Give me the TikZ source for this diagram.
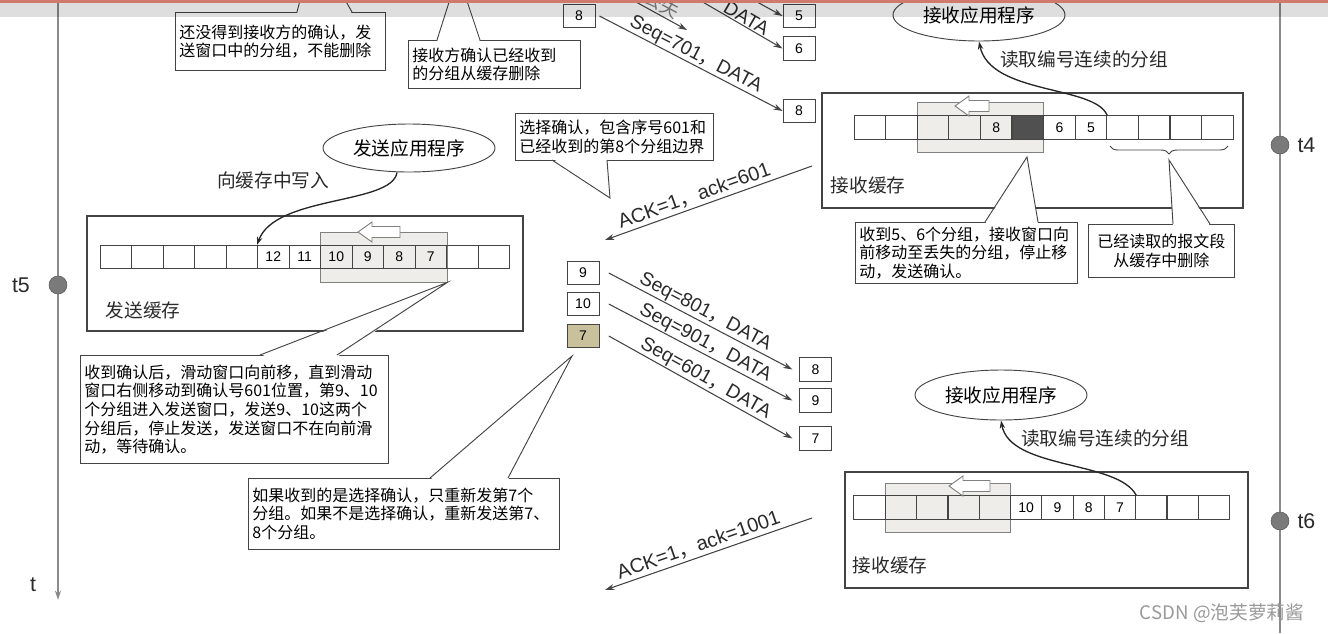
\documentclass[tikz,border=0pt]{standalone}
\usepackage{fontspec}
\setmainfont{Liberation Sans}
\newfontfamily\cjk{Noto Sans CJK SC}
\usepackage{xcolor}
\usepackage{tikz}
\usetikzlibrary{shapes.geometric, arrows.meta, positioning, decorations.pathreplacing}

\definecolor{linegray}{HTML}{444444}
\definecolor{axisgray}{HTML}{8A8A8A}
\definecolor{dotgray}{HTML}{7A7A7A}
\definecolor{winfill}{HTML}{EFEDE9}
\definecolor{darkcell}{HTML}{505050}
\definecolor{pktfill}{HTML}{C9C19C}
\definecolor{bandred}{HTML}{D07A6E}
\definecolor{txtgray}{HTML}{2A2A2A}

\newcommand{\fwc}{{\cjk ，}}
% hollow arrow on top of a window: tip x, tip y, shaft length
\newcommand{\winarrow}[3]{%
  \draw[winarr] (#1,#2) -- ++(14,-10) -- ++(0,4.5) -- ++(#3,0) -- ++(0,11) -- ++(-#3,0) -- ++(0,4.5) -- cycle;}

\tikzset{
  cell/.style={draw=linegray, line width=0.7pt, minimum width=23.6pt, minimum height=17.5pt, inner sep=0pt, font=\fontsize{10.5}{12}\selectfont},
  pkt/.style={draw=linegray, line width=0.7pt, minimum width=24pt, minimum height=17.5pt, inner sep=0pt, font=\fontsize{10.5}{12}\selectfont},
  bufbox/.style={draw=linegray, line width=0.8pt},
  win/.style={draw=gray, fill=winfill, line width=0.6pt, inner sep=0pt},
  winarr/.style={draw=gray, fill=white, line width=0.7pt},
  note/.style={draw=linegray, fill=white, line width=0.7pt, anchor=north west, align=left, inner xsep=3pt, inner ysep=2pt, font=\cjk\fontsize{12}{14}\selectfont},
  tailln/.style={draw=linegray, line width=0.7pt},
  app/.style={ellipse, draw=linegray, line width=0.7pt, minimum width=129pt, minimum height=36pt, inner sep=0pt, font=\cjk\fontsize{14}{16}\selectfont},
  cjklbl/.style={font=\cjk\fontsize{14}{16}\selectfont, text=txtgray},
  msg/.style={draw=linegray, line width=0.8pt, -{Stealth[length=7pt, width=4.5pt]}},
  seqlbl/.style={sloped, above, inner sep=0.5pt, font=\fontsize{14.5}{16}\selectfont, text=txtgray},
  readarr/.style={draw=black!85, line width=1pt, -{Stealth[length=6pt, width=4pt]}},
  axisln/.style={draw=axisgray, line width=1.6pt},
  tdot/.style={circle, fill=dotgray, draw=gray!70!black, minimum size=13.5pt, inner sep=0pt},
  tlbl/.style={font=\fontsize{16}{18}\selectfont, text=txtgray, inner sep=0pt}
}

\begin{document}
\begin{tikzpicture}[x=0.75pt, y=-0.75pt]
    \useasboundingbox (0,0) rectangle (1328,633);
    \clip (0,0) rectangle (1328,633);

    % Time axes
    \coordinate (ltop) at (58,0);
    \coordinate (lbot) at (58,600);
    \coordinate (rtop) at (1280,0);
    \coordinate (rbot) at (1280,633);
    \draw[axisln, -{Stealth[length=7pt, width=4.5pt]}] (ltop) -- (lbot);
    \draw[axisln] (rtop) -- (rbot);
    \node[tdot] (t5) at (58,285) {};
    \node[tdot] (t4) at (1280,145) {};
    \node[tdot] (t6) at (1280,521) {};
    \node[tlbl, left=14pt of t5] (t5lbl) {t5};
    \node[tlbl, right=6pt of t4] (t4lbl) {t4};
    \node[tlbl, right=6pt of t6] (t6lbl) {t6};
    \node[tlbl] (tlbl) at (33,585) {t};

    % Sender: application and buffer
    \def\scw{31.5}
    \node[app] (sapp) at (409,148) {发送应用程序};
    \node[cjklbl] (wrlbl) at (273,180) {向缓存中写入};
    \draw[bufbox] (87,216) rectangle (523,331);
    \node[win, minimum width=95.25pt, minimum height=37.5pt] (swin) at (383.5,257) {};
    \foreach \lb [count=\i] in {{},{},{},{},{},12,11,10,9,8,7,{},{}}
        \node[cell] (sc\i) at ({100+\scw*(\i-0.5)},257) {\lb};
    \winarrow{358}{232}{28}
    \node[cjklbl] (sbuflbl) at (143,310) {发送缓存};
    \draw[readarr] ([xshift=-9pt]sapp.south) .. controls (392,205) and (275,195) .. (sc6.north west);

    % Receiver at t4: application and buffer
    \def\rcw{31.6}
    \node[app, minimum height=39pt] (rapp1) at (979,15) {接收应用程序};
    \node[cjklbl] (rd1) at (1084,59) {读取编号连续的分组};
    \draw[bufbox] (822,93) rectangle (1243,208);
    \node[win, minimum width=94.5pt, minimum height=37.5pt] (rwin1) at (980,127) {};
    \foreach \lb [count=\i] in {{},{},{},{},8,{},6,5,{},{},{},{}}
        \node[cell] (rc\i) at ({854+\rcw*(\i-0.5)},127.5) {\lb};
    \node[cell, fill=darkcell] at (rc6) {};
    \winarrow{955}{106}{20}
    \node[cjklbl] (rbuflbl1) at (868,185) {接收缓存};
    \draw[readarr] (rc8.north east) .. controls (1095,85) and (990,95) .. (rapp1.south);
    \draw[linegray, line width=0.7pt, decorate, decoration={brace, mirror, amplitude=6pt}] (1110,146) -- (1228,146);
    \coordinate (brtip) at (1169,160);

    % Receiver at t6: application and buffer
    \def\bcw{31.3}
    \node[app, minimum height=37.5pt] (rapp2) at (1001,395) {接收应用程序};
    \node[cjklbl] (rd2) at (1105,438) {读取编号连续的分组};
    \draw[bufbox] (845,472) rectangle (1248,588);
    \node[win, minimum width=93.75pt, minimum height=36.75pt] (rwin2) at (947.5,507.5) {};
    \foreach \lb [count=\i] in {{},{},{},{},{},10,9,8,7,{},{},{}}
        \node[cell] (rb\i) at ({854+\bcw*(\i-0.5)},507.5) {\lb};
    \winarrow{949}{486}{27}
    \node[cjklbl] (rbuflbl2) at (890,565) {接收缓存};
    \draw[readarr] (rb9.north east) .. controls (1118,460) and (1010,470) .. (rapp2.south);

    % Segments sent before t4
    \node[pkt] (s8) at (579,16) {8};
    \node[pkt] (r5) at (799,16) {5};
    \node[pkt] (r6) at (799,48.5) {6};
    \node[pkt] (r8) at (799,111) {8};
    \coordinate (m5s) at (690,-35);
    \coordinate (m6s) at (665,-20);
    \coordinate (m7s) at (605,-15);
    \coordinate (m7e) at (687,30);
    \draw[msg] (m5s) -- (r5.west);
    \draw[msg] (m6s) -- node[seqlbl, pos=0.66] {DATA} (r6.west);
    \draw[msg] (m7s) -- (m7e);
    \node[cjklbl, text=gray, rotate=-28] (lost) at (662,4) {丢失};
    \draw[msg] ([xshift=3pt]s8.east) -- node[seqlbl] {Seq=701\fwc DATA} (r8.west);

    % Selective ACK from receiver
    \coordinate (a1s) at (812,166);
    \coordinate (a1e) at (605,240);
    \draw[msg] (a1s) -- node[seqlbl, pos=0.55, inner sep=2pt, font=\fontsize{15}{17}\selectfont] {ACK=1\fwc ack=601} (a1e);

    % Segments sent after t5
    \node[pkt] (s9) at (583,273) {9};
    \node[pkt] (s10) at (583,304) {10};
    \node[pkt, fill=pktfill] (s7) at (583,336) {7};
    \node[pkt] (r8b) at (815.5,369.5) {8};
    \node[pkt] (r9b) at (815.5,400.5) {9};
    \node[pkt] (r7b) at (815.5,438.5) {7};
    \draw[msg] ([xshift=7pt]s9.east) -- node[seqlbl] {Seq=801\fwc DATA} ([xshift=-5pt]r8b.west);
    \draw[msg] ([xshift=7pt]s10.east) -- node[seqlbl] {Seq=901\fwc DATA} ([xshift=-5pt]r9b.west);
    \draw[msg] ([xshift=7pt]s7.east) -- node[seqlbl] {Seq=601\fwc DATA} ([xshift=-5pt]r7b.west);

    % Final ACK
    \coordinate (a2s) at (812,518);
    \coordinate (a2e) at (605,590);
    \draw[msg] (a2s) -- node[seqlbl, pos=0.53, inner sep=2pt, font=\fontsize{15}{17}\selectfont] {ACK=1\fwc ack=1001} (a2e);

    % Notes
    \node[note, text width=151.5pt, minimum height=43.5pt] (nA) at (175,12) {还没得到接收方的确认，发\\送窗口中的分组，不能删除};
    \coordinate (tipA) at (314,-54);
    \fill[white] (tipA) -- (297,14) -- (352,14) -- cycle;
    \draw[tailln] (297,12) -- (tipA) -- (352,12);

    \node[note, text width=123pt, minimum height=36pt] (nB) at (408,40) {接收方确认已经收到\\的分组从缓存删除};
    \coordinate (tipB) at (458,-26);
    \fill[white] (tipB) -- (437,42) -- (480,42) -- cycle;
    \draw[tailln] (437,40) -- (tipB) -- (480,40);

    \node[note, text width=142.5pt, minimum height=35.25pt] (nC) at (515,113) {选择确认，包含序号601和\\已经收到的第8个分组边界};
    \coordinate (tipC) at (610,198);
    \fill[white] (tipC) -- (552,158) -- (607,158) -- cycle;
    \draw[tailln] (552,160) -- (tipC) -- (607,160);

    \node[note, text width=225pt, minimum height=81pt] (nD) at (80,355) {收到确认后，滑动窗口向前移，直到滑动\\窗口右侧移动到确认号601位置，第9、10\\个分组进入发送窗口，发送9、10这两个\\分组后，停止发送，发送窗口不在向前滑\\动，等待确认。};
    \fill[white] (swin.south east) -- (260,357) -- (337,357) -- cycle;
    \draw[tailln] (260,355) -- (swin.south east) -- (337,355);

    \node[note, text width=227pt, minimum height=53pt] (nE) at (248,478) {如果收到的是选择确认，只重新发第7个\\分组。如果不是选择确认，重新发送第7、\\8个分组。};
    \coordinate (tipE) at (572,356);
    \fill[white] (tipE) -- (430,480) -- (508,480) -- cycle;
    \draw[tailln] (430,478) -- (tipE) -- (508,478);

    \node[note, text width=160.5pt, minimum height=45.75pt] (nF) at (855,222) {收到5、6个分组，接收窗口向\\前移动至丢失的分组，停止移\\动，发送确认。};
    \coordinate (tipF) at (1027,157);
    \fill[white] (tipF) -- (985,224) -- (1038,224) -- cycle;
    \draw[tailln] (985,222) -- (tipF) -- (1038,222);

    \node[note, align=center, text width=103.5pt, minimum height=40pt] (nG) at (1088,224) {已经读取的报文段\\从缓存中删除};
    \fill[white] (brtip) -- (1173,226) -- (1210,226) -- cycle;
    \draw[tailln] (1173,224) -- (brtip) -- (1210,224);

    % Watermark
    \node[font=\cjk\fontsize{14}{16}\selectfont, text=gray!80] (wm) at (1222,613) {CSDN @泡芙萝莉酱};

    % Top band of the screenshot
    \fill[black, opacity=0.13] (0,0) rectangle (1328,17);
    \fill[bandred] (0,0) rectangle (1328,2.5);
\end{tikzpicture}
\end{document}
